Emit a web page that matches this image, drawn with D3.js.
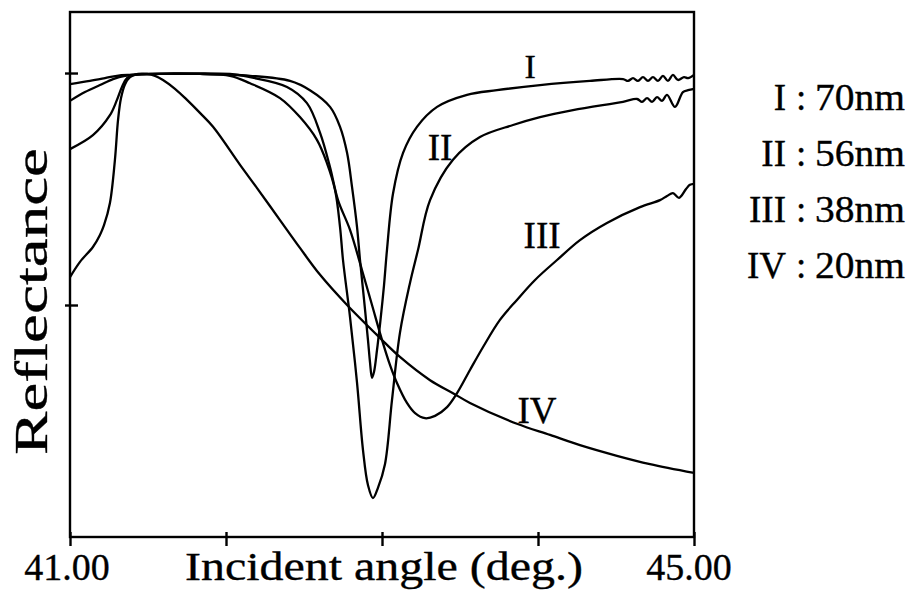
<!DOCTYPE html>
<html>
<head>
<meta charset="utf-8">
<script src="https://cdn.jsdelivr.net/npm/d3@7"></script>
<style>
  html, body { margin: 0; padding: 0; background: #fff; }
  svg { display: block; }
</style>
</head>
<body>
<svg id="chart" width="911" height="590"></svg>
<script>
// Reflectance vs. incident angle for four film thicknesses
const angleI   = [41.000,41.128,41.224,41.301,41.385,41.577,41.833,42.154,42.410,42.538,42.667,42.731,42.776,42.808,42.840,42.859,42.885,42.910,42.923,42.936,42.949,42.968,42.987,43.013,43.032,43.071,43.135,43.224,43.353,43.545,43.737,44.013,44.333,44.545,44.577,44.609,44.641,44.673,44.705,44.737,44.769,44.801,44.833,44.865,44.897,44.936,44.962,45.000];
const reflI    = [0.976,0.983,0.989,0.994,0.996,0.998,0.998,0.994,0.983,0.963,0.927,0.884,0.828,0.754,0.668,0.597,0.511,0.425,0.377,0.343,0.356,0.403,0.457,0.543,0.619,0.741,0.828,0.884,0.927,0.953,0.963,0.974,0.983,0.987,0.983,0.989,0.983,0.991,0.983,0.991,0.983,0.994,0.983,0.996,0.985,0.991,0.989,0.996];

const angleII  = [41.000,41.096,41.192,41.276,41.353,41.513,41.833,42.026,42.154,42.346,42.474,42.583,42.647,42.699,42.731,42.750,42.795,42.840,42.878,42.910,42.942,42.974,43.019,43.064,43.115,43.179,43.231,43.308,43.455,43.628,43.840,44.013,44.224,44.545,44.635,44.667,44.699,44.731,44.763,44.795,44.827,44.878,44.929,44.962,45.000];
const reflII   = [0.940,0.959,0.974,0.987,0.994,0.998,0.998,0.994,0.978,0.946,0.905,0.856,0.806,0.748,0.668,0.597,0.474,0.332,0.188,0.112,0.084,0.106,0.157,0.295,0.440,0.547,0.619,0.726,0.813,0.862,0.888,0.905,0.920,0.938,0.944,0.938,0.946,0.938,0.948,0.940,0.953,0.927,0.959,0.963,0.966];

const angleIII = [41.000,41.147,41.256,41.301,41.333,41.365,41.417,41.577,42.026,42.154,42.391,42.519,42.603,42.667,42.718,42.795,42.872,42.936,43.000,43.051,43.096,43.160,43.212,43.276,43.340,43.417,43.481,43.564,43.647,43.756,43.865,43.981,44.122,44.269,44.442,44.654,44.782,44.827,44.865,44.904,44.949,44.974,45.000];
const reflIII  = [0.836,0.866,0.909,0.942,0.970,0.989,0.996,0.998,0.998,0.991,0.970,0.935,0.871,0.797,0.726,0.662,0.575,0.500,0.425,0.371,0.332,0.289,0.267,0.256,0.261,0.280,0.310,0.360,0.409,0.468,0.511,0.554,0.597,0.640,0.677,0.711,0.726,0.735,0.741,0.731,0.750,0.759,0.761];

const angleIV  = [41.000,41.064,41.147,41.192,41.218,41.256,41.288,41.308,41.327,41.353,41.385,41.436,41.494,41.545,41.596,41.673,41.750,41.833,41.917,42.090,42.199,42.346,42.474,42.603,42.776,42.987,43.115,43.308,43.455,43.564,43.865,44.077,44.269,44.506,44.718,45.000];
const reflIV   = [0.560,0.593,0.625,0.651,0.672,0.720,0.813,0.899,0.946,0.976,0.991,0.998,0.998,0.994,0.985,0.966,0.942,0.914,0.884,0.802,0.752,0.683,0.623,0.565,0.500,0.429,0.388,0.338,0.310,0.289,0.244,0.220,0.198,0.175,0.157,0.138];

const seriesNames = ["I", "II", "III", "IV"];
const thickness   = ["70nm", "56nm", "38nm", "20nm"];

const xDomain = [41, 45];
const xTicks = [41, 42, 43, 44, 45];
const xTickLabels = ["41.00", "", "", "", "45.00"];
const yTicks = [0.5, 1.0];

const FONT = '"Liberation Serif", "Times New Roman", serif';

const svg = d3.select("#chart").style("font-family", FONT);
const plotLeft = 70, plotRight = 694, plotTop = 12, plotBottom = 537;

const x = d3.scaleLinear().domain(xDomain).range([plotLeft, plotRight]);
const y = d3.scaleLinear().domain([0, 1.1315]).range([plotBottom, plotTop]);

// plot frame
svg.append("rect")
  .attr("x", plotLeft).attr("y", plotTop)
  .attr("width", plotRight - plotLeft).attr("height", plotBottom - plotTop)
  .attr("fill", "none").attr("stroke", "#000").attr("stroke-width", 2.4);

// x axis: ticks crossing the bottom edge
const xAxis = svg.append("g")
  .attr("transform", `translate(0,${plotBottom})`)
  .call(d3.axisBottom(x).tickValues(xTicks).tickFormat("").tickSize(9));
xAxis.select(".domain").remove();
xAxis.selectAll(".tick line").attr("y1", -5).attr("y2", 9)
  .attr("stroke", "#000").attr("stroke-width", 2.4);

// y axis: ticks crossing the left edge
const yAxis = svg.append("g")
  .attr("transform", `translate(${plotLeft},0)`)
  .call(d3.axisLeft(y).tickValues(yTicks).tickFormat("").tickSize(5));
yAxis.select(".domain").remove();
yAxis.selectAll(".tick line").attr("x1", -5).attr("x2", 8)
  .attr("stroke", "#000").attr("stroke-width", 2.4);

// shared text styling: serif, black, slightly heavy strokes
function label(sel) {
  return sel.style("font-family", FONT).attr("fill", "#000")
    .attr("stroke", "#000").attr("stroke-width", 0.35);
}

// x tick labels (end values only)
label(svg.append("g").selectAll("text")
  .data(xTicks.map((v, i) => ({ v, label: xTickLabels[i] })).filter(d => d.label))
  .join("text"))
  .attr("x", (d, i) => x(d.v) + (i === 0 ? -3 : -5))
  .attr("y", 580)
  .attr("text-anchor", "middle")
  .attr("font-size", 38)
  .text(d => d.label);

// axis titles
label(svg.append("text"))
  .attr("x", 185).attr("y", 580)
  .attr("font-size", 41)
  .attr("textLength", 398).attr("lengthAdjust", "spacingAndGlyphs")
  .text("Incident angle (deg.)");

label(svg.append("text"))
  .attr("transform", "translate(47,455) rotate(-90)")
  .attr("font-size", 47)
  .attr("textLength", 307).attr("lengthAdjust", "spacingAndGlyphs")
  .text("Reflectance");

// curves
const line = d3.line()
  .x(d => x(d[0])).y(d => y(d[1]))
  .curve(d3.curveCatmullRom.alpha(0.5));

const curves = [
  d3.zip(angleI, reflI),
  d3.zip(angleII, reflII),
  d3.zip(angleIII, reflIII),
  d3.zip(angleIV, reflIV)
];

svg.append("g").selectAll("path")
  .data(curves)
  .join("path")
  .attr("d", line)
  .attr("fill", "none")
  .attr("stroke", "#000")
  .attr("stroke-width", 2.3)
  .attr("stroke-linejoin", "round");

// curve labels beside each trace
const curveLabelPos = [[43.949, 0.989], [43.372, 0.8125], [44.026, 0.623], [43.994, 0.246]];
const curveLabelSize = [34, 37, 37, 37];
label(svg.append("g").selectAll("text")
  .data(seriesNames)
  .join("text"))
  .attr("x", (d, i) => x(curveLabelPos[i][0]))
  .attr("y", (d, i) => y(curveLabelPos[i][1]))
  .attr("text-anchor", "middle")
  .attr("font-size", (d, i) => curveLabelSize[i])
  .text(d => d);

// legend: numeral, colon, film thickness
const legend = svg.append("g");
seriesNames.forEach((name, i) => {
  const yy = 110 + i * 56;
  label(legend.append("text")).attr("x", 786).attr("y", yy)
    .attr("text-anchor", "end").attr("font-size", 37).text(name);
  label(legend.append("text")).attr("x", 796).attr("y", yy)
    .attr("font-size", 37).text(":");
  label(legend.append("text")).attr("x", 815).attr("y", yy)
    .attr("font-size", 37)
    .attr("textLength", 90).attr("lengthAdjust", "spacingAndGlyphs")
    .text(thickness[i]);
});
</script>
</body>
</html>
